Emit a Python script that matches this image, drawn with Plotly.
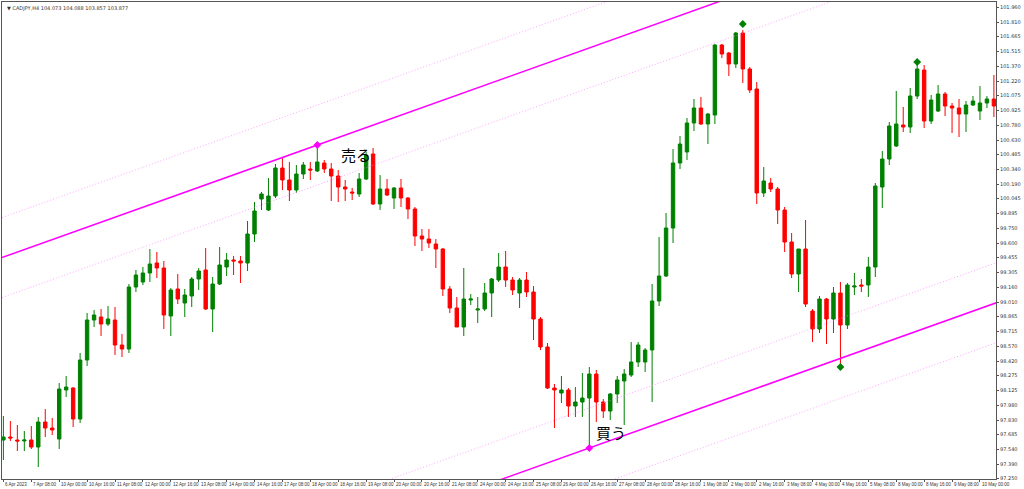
import plotly.graph_objects as go

# CADJPY H4, bars
opens = [97.63, 97.66, 97.63, 97.62, 97.63, 97.56, 97.81, 97.75, 97.64, 98.13,
         98.15, 97.84, 98.43, 98.83, 98.86, 98.79, 98.83, 98.58, 98.54, 99.16,
         99.21, 99.30, 99.40, 99.35, 98.87, 99.14, 99.00, 99.07, 99.24, 99.33,
         98.94, 99.19, 99.36, 99.43, 99.42, 99.40, 99.69, 100.04, 99.93, 100.07,
         100.35, 100.23, 100.13, 100.29, 100.34, 100.32, 100.40, 100.34, 100.27, 100.16,
         100.11, 100.09, 100.24, 100.49, 99.99, 100.14, 100.05, 100.15, 100.05, 99.94,
         99.67, 99.64, 99.59, 99.54, 99.14, 98.95, 98.76, 99.03, 98.93, 98.94,
         99.10, 99.23, 99.36, 99.23, 99.10, 99.23, 99.11, 98.84, 98.56, 98.15,
         98.10, 98.13, 97.97, 98.01, 98.05, 98.29, 98.01, 97.92, 98.09, 98.22,
         98.28, 98.41, 98.41, 98.53, 99.02, 99.27, 99.75, 100.40, 100.51, 100.80,
         100.95, 100.79, 100.88, 101.58, 101.50, 101.39, 101.70, 101.34, 101.14, 100.10,
         100.20, 100.14, 99.93, 99.61, 99.29, 99.54, 98.92, 98.74, 99.04, 98.84,
         99.10, 98.78, 99.16, 99.18, 99.18, 99.36, 100.16, 100.44, 100.57, 100.78,
         100.76, 101.07, 101.33, 100.82, 100.92, 101.09, 100.97, 100.95, 100.89, 100.98,
         100.92, 101.00, 101.04]
highs = [97.87, 97.82, 97.78, 97.72, 97.77, 97.86, 97.94, 97.85, 98.20, 98.27,
         98.16, 98.50, 98.90, 98.93, 98.94, 98.97, 98.96, 98.69, 99.19, 99.33,
         99.36, 99.54, 99.51, 99.42, 99.15, 99.29, 99.14, 99.26, 99.35, 99.55,
         99.26, 99.56, 99.50, 99.47, 99.47, 99.82, 100.01, 100.11, 100.25, 100.39,
         100.45, 100.41, 100.38, 100.41, 100.41, 100.58, 100.43, 100.40, 100.33, 100.23,
         100.15, 100.30, 100.51, 100.55, 100.28, 100.24, 100.16, 100.24, 100.06, 99.96,
         99.74, 99.74, 99.64, 99.55, 99.17, 99.06, 99.35, 99.09, 99.06, 99.20,
         99.25, 99.50, 99.52, 99.26, 99.25, 99.31, 99.17, 98.86, 98.60, 98.19,
         98.27, 98.15, 98.16, 98.30, 98.36, 98.33, 98.04, 98.10, 98.27, 98.34,
         98.61, 98.61, 98.55, 99.19, 99.66, 99.90, 100.54, 100.67, 100.85, 101.04,
         101.06, 100.90, 101.59, 101.59, 101.51, 101.71, 101.73, 101.36, 101.21, 100.36,
         100.25, 100.16, 99.96, 99.70, 99.54, 99.83, 98.94, 99.07, 99.05, 99.16,
         99.21, 99.20, 99.30, 99.24, 99.46, 100.20, 100.52, 100.81, 101.12, 100.96,
         101.15, 101.38, 101.38, 101.08, 101.18, 101.11, 101.00, 101.04, 101.02, 101.07,
         101.17, 101.07, 101.28]
lows = [97.43, 97.62, 97.52, 97.52, 97.54, 97.36, 97.66, 97.68, 97.54, 98.06,
        97.76, 97.80, 98.37, 98.76, 98.67, 98.77, 98.48, 98.46, 98.50, 99.11,
        99.18, 99.21, 99.25, 98.74, 98.67, 98.99, 98.86, 98.96, 99.13, 98.93,
        98.71, 99.18, 99.27, 99.28, 99.20, 99.32, 99.61, 99.93, 99.92, 100.05,
        100.13, 100.02, 100.10, 100.24, 100.23, 100.31, 100.30, 100.02, 100.01, 100.02,
        100.03, 100.06, 100.23, 99.98, 99.93, 100.07, 99.94, 99.96, 99.84, 99.57,
        99.52, 99.55, 99.35, 99.07, 98.90, 98.76, 98.67, 98.98, 98.80, 98.92,
        98.86, 99.21, 99.16, 99.08, 98.95, 99.06, 98.63, 98.53, 98.14, 97.75,
        98.00, 97.86, 97.86, 97.86, 97.55, 97.81, 97.85, 97.83, 98.00, 97.78,
        98.26, 98.36, 98.31, 98.01, 98.97, 99.26, 99.60, 100.34, 100.43, 100.72,
        100.78, 100.59, 100.79, 101.45, 101.27, 101.35, 101.20, 101.10, 99.99, 100.06,
        100.11, 99.79, 99.51, 99.25, 99.11, 98.96, 98.61, 98.70, 98.59, 98.70,
        98.38, 98.74, 99.08, 99.11, 99.06, 99.26, 99.95, 100.38, 100.56, 100.71,
        100.70, 101.04, 100.75, 100.79, 100.91, 100.87, 100.70, 100.66, 100.71, 100.97,
        100.83, 100.95, 100.86]
closes = [97.66, 97.65, 97.62, 97.63, 97.56, 97.81, 97.75, 97.73, 98.14, 98.16,
          97.84, 98.43, 98.83, 98.88, 98.79, 98.84, 98.58, 98.54, 99.16, 99.28,
          99.30, 99.39, 99.35, 98.88, 99.13, 99.04, 99.08, 99.24, 99.32, 98.94,
          99.19, 99.38, 99.43, 99.42, 99.40, 99.69, 99.92, 100.09, 100.07, 100.35,
          100.23, 100.13, 100.29, 100.38, 100.33, 100.41, 100.34, 100.27, 100.16, 100.14,
          100.10, 100.24, 100.48, 99.99, 100.14, 100.08, 100.15, 100.05, 99.94, 99.67,
          99.64, 99.60, 99.54, 99.14, 98.95, 98.76, 99.04, 99.04, 98.94, 99.10,
          99.24, 99.36, 99.23, 99.13, 99.23, 99.11, 98.84, 98.56, 98.15, 98.13,
          98.13, 97.97, 98.01, 98.05, 98.29, 98.01, 97.92, 98.09, 98.23, 98.29,
          98.41, 98.58, 98.53, 99.02, 99.27, 99.75, 100.40, 100.59, 100.80, 100.95,
          100.79, 100.89, 101.58, 101.49, 101.39, 101.70, 101.34, 101.13, 100.10, 100.22,
          100.14, 99.93, 99.61, 99.29, 99.54, 98.99, 98.74, 99.04, 98.84, 99.10,
          98.78, 99.18, 99.17, 99.17, 99.36, 100.17, 100.44, 100.77, 100.79, 100.76,
          101.07, 101.34, 100.82, 101.03, 101.09, 100.97, 100.95, 100.89, 100.98, 101.02,
          101.00, 101.04, 100.97]

date_labels = ["6 Apr 2023", "7 Apr 08:00", "10 Apr 00:00", "10 Apr 16:00", "11 Apr 08:00",
               "12 Apr 00:00", "12 Apr 16:00", "13 Apr 08:00", "14 Apr 00:00", "14 Apr 16:00",
               "17 Apr 08:00", "18 Apr 00:00", "18 Apr 16:00", "19 Apr 08:00", "20 Apr 00:00",
               "20 Apr 16:00", "21 Apr 08:00", "24 Apr 00:00", "24 Apr 16:00", "25 Apr 08:00",
               "26 Apr 00:00", "26 Apr 16:00", "27 Apr 08:00", "28 Apr 00:00", "28 Apr 16:00",
               "1 May 08:00", "2 May 00:00", "2 May 16:00", "3 May 08:00", "4 May 00:00",
               "4 May 16:00", "5 May 08:00", "8 May 00:00", "8 May 16:00", "9 May 08:00",
               "10 May 00:00"]
price_ticks = [101.960, 101.810, 101.665, 101.515, 101.370, 101.220, 101.075, 100.925,
               100.780, 100.630, 100.485, 100.340, 100.190, 100.045, 99.895, 99.750,
               99.600, 99.455, 99.305, 99.160, 99.010, 98.865, 98.715, 98.570,
               98.420, 98.275, 98.125, 97.980, 97.830, 97.685, 97.540, 97.390, 97.250]

# channel: anchors, slope per bar, dotted offset
sell_bar, sell_price = 45, 100.58
buy_bar, buy_price = 84, 97.55
slope = 0.0249
band = 0.40
fractal_up = [(106, 101.79), (131, 101.41)]
fractal_down = [(120, 98.36)]

x = list(range(len(opens)))
fig = go.Figure()
fig.add_trace(go.Candlestick(
    x=x, open=opens, high=highs, low=lows, close=closes,
    increasing=dict(line=dict(color="#008000", width=1), fillcolor="#008000"),
    decreasing=dict(line=dict(color="#ff0000", width=1), fillcolor="#ff0000"),
    whiskerwidth=0, hoverinfo="skip", showlegend=False))

xs = [-1, 143]
for bar, price in [(sell_bar, sell_price), (buy_bar, buy_price)]:
    base = [price + slope * (v - bar) for v in xs]
    fig.add_trace(go.Scatter(x=xs, y=base, mode="lines",
                             line=dict(color="#ff00ff", width=1.5), showlegend=False))
    for off in (band, -band):
        fig.add_trace(go.Scatter(x=xs, y=[b + off for b in base], mode="lines",
                                 line=dict(color="#ff80ff", width=0.7, dash="1px,2px"),
                                 showlegend=False))

fig.add_trace(go.Scatter(x=[sell_bar, buy_bar], y=[sell_price, buy_price], mode="markers",
                         marker=dict(symbol="diamond", size=6, color="#ff00ff"),
                         showlegend=False))
fig.add_trace(go.Scatter(x=[p[0] for p in fractal_up + fractal_down],
                         y=[p[1] for p in fractal_up + fractal_down], mode="markers",
                         marker=dict(symbol="diamond", size=6, color="#008000"),
                         showlegend=False))

fig.add_annotation(x=sell_bar + 3.1, y=sell_price + 0.03, text="売る", showarrow=False,
                   xanchor="left", yanchor="top",
                   font=dict(family="Noto Sans CJK JP", size=15, color="black"))
fig.add_annotation(x=buy_bar + 0.7, y=buy_price + 0.28, text="買う", showarrow=False,
                   xanchor="left", yanchor="top",
                   font=dict(family="Noto Sans CJK JP", size=15, color="black"))

for i, lab in enumerate(date_labels):
    fig.add_annotation(x=i * 4, y=0, yref="paper", yanchor="top", xanchor="left",
                       text=lab, showarrow=False, xshift=0, yshift=-1,
                       font=dict(family="Liberation Sans Narrow, Liberation Sans", size=4.5,
                                 color="#333"))

fig.add_annotation(x=0, y=1, xref="paper", yref="paper", xanchor="left", yanchor="top",
                   text="▼ CADJPY,H4 104.073 104.088 103.857 103.877", showarrow=False,
                   xshift=3, yshift=-1,
                   font=dict(family="DejaVu Sans", size=5, color="#333"))

fig.update_layout(
    width=1024, height=489, margin=dict(l=2, r=28, t=2, b=10, autoexpand=False),
    paper_bgcolor="white", plot_bgcolor="white",
    font=dict(family="DejaVu Sans", size=5, color="#333"),
    xaxis=dict(range=[-0.2, 142.3], showgrid=False, showticklabels=False,
               rangeslider=dict(visible=False), showline=True, linecolor="#555",
               mirror=True, ticks="outside", tickvals=[i * 4 for i in range(len(date_labels))],
               ticklen=2, tickcolor="#555", zeroline=False),
    yaxis=dict(range=[97.24, 102.01], side="right", showgrid=False, tickvals=price_ticks,
               ticktext=[f"{v:.3f}" for v in price_ticks], ticks="outside", ticklen=2,
               tickcolor="#555", showline=True, linecolor="#555", mirror=True,
               zeroline=False, tickfont=dict(size=5)),
)

fig.write_html("out.html", config={"displayModeBar": False},
               post_script="document.body.style.margin='0';")
